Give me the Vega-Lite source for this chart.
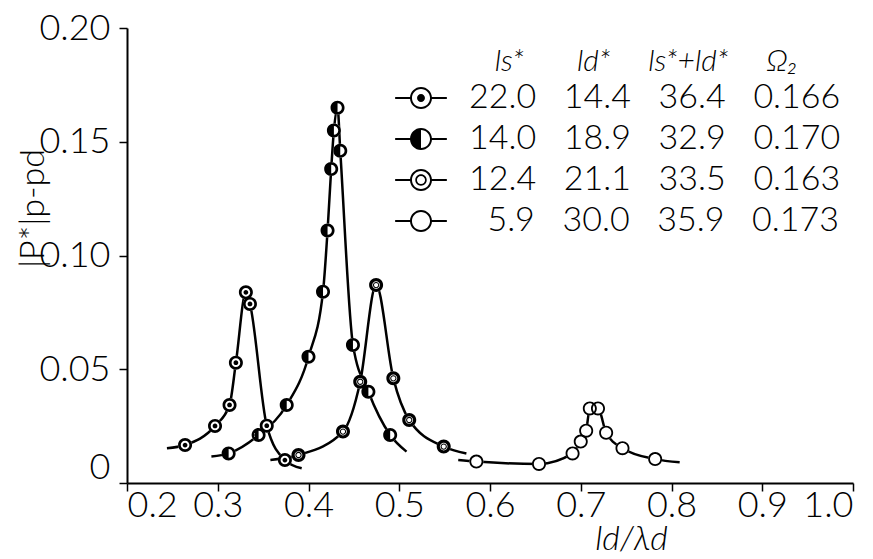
{
  "$schema": "https://vega.github.io/schema/vega-lite/v6.json",
  "width": 726,
  "height": 455,
  "autosize": {"type": "none"},
  "padding": {"left": 127, "top": 28, "right": 20, "bottom": 76},
  "background": "white",
  "config": {
    "view": {"stroke": null},
    "font": "Lato",
    "axis": {
      "domainColor": "black", "domainWidth": 2, "tickColor": "black", "tickWidth": 1.5, "tickSize": 8,
      "grid": false, "labelFont": "Lato", "labelFontWeight": 300, "labelFontSize": 36, "labelColor": "black",
      "titleFont": "Lato", "titleFontWeight": 300, "titleFontStyle": "italic", "titleColor": "black"
    }
  },
  "datasets": {
    "markers": [
      {"ls": "22.0", "x": 0.264, "y": 0.0167}, {"ls": "22.0", "x": 0.297, "y": 0.0251}, {"ls": "22.0", "x": 0.313, "y": 0.0343},
      {"ls": "22.0", "x": 0.320, "y": 0.0529}, {"ls": "22.0", "x": 0.331, "y": 0.0838}, {"ls": "22.0", "x": 0.3355, "y": 0.0787},
      {"ls": "22.0", "x": 0.354, "y": 0.0252}, {"ls": "22.0", "x": 0.374, "y": 0.0101},
      {"ls": "14.0", "x": 0.312, "y": 0.013}, {"ls": "14.0", "x": 0.345, "y": 0.0211}, {"ls": "14.0", "x": 0.376, "y": 0.0343},
      {"ls": "14.0", "x": 0.400, "y": 0.0555}, {"ls": "14.0", "x": 0.416, "y": 0.0841}, {"ls": "14.0", "x": 0.421, "y": 0.111},
      {"ls": "14.0", "x": 0.425, "y": 0.138}, {"ls": "14.0", "x": 0.428, "y": 0.155}, {"ls": "14.0", "x": 0.432, "y": 0.165},
      {"ls": "14.0", "x": 0.435, "y": 0.146}, {"ls": "14.0", "x": 0.449, "y": 0.0607}, {"ls": "14.0", "x": 0.466, "y": 0.0401},
      {"ls": "14.0", "x": 0.490, "y": 0.0211},
      {"ls": "12.4", "x": 0.389, "y": 0.0123}, {"ls": "12.4", "x": 0.438, "y": 0.0226}, {"ls": "12.4", "x": 0.457, "y": 0.0445},
      {"ls": "12.4", "x": 0.4745, "y": 0.087}, {"ls": "12.4", "x": 0.4935, "y": 0.046}, {"ls": "12.4", "x": 0.511, "y": 0.0277},
      {"ls": "12.4", "x": 0.549, "y": 0.016},
      {"ls": "5.9", "x": 0.585, "y": 0.0094}, {"ls": "5.9", "x": 0.654, "y": 0.0084}, {"ls": "5.9", "x": 0.691, "y": 0.013},
      {"ls": "5.9", "x": 0.700, "y": 0.0182}, {"ls": "5.9", "x": 0.706, "y": 0.023}, {"ls": "5.9", "x": 0.710, "y": 0.0328},
      {"ls": "5.9", "x": 0.719, "y": 0.0328}, {"ls": "5.9", "x": 0.728, "y": 0.0221}, {"ls": "5.9", "x": 0.746, "y": 0.0153},
      {"ls": "5.9", "x": 0.782, "y": 0.0105}
    ],
    "curves": [
      {"ls": "22.0", "x": 0.244, "y": 0.0153}, {"ls": "22.0", "x": 0.264, "y": 0.0167}, {"ls": "22.0", "x": 0.297, "y": 0.0251},
      {"ls": "22.0", "x": 0.313, "y": 0.0343}, {"ls": "22.0", "x": 0.320, "y": 0.0529}, {"ls": "22.0", "x": 0.331, "y": 0.0838},
      {"ls": "22.0", "x": 0.3355, "y": 0.0787}, {"ls": "22.0", "x": 0.354, "y": 0.0252}, {"ls": "22.0", "x": 0.374, "y": 0.0101},
      {"ls": "22.0", "x": 0.3925, "y": 0.0065},
      {"ls": "14.0", "x": 0.293, "y": 0.0116}, {"ls": "14.0", "x": 0.312, "y": 0.013}, {"ls": "14.0", "x": 0.345, "y": 0.0211},
      {"ls": "14.0", "x": 0.376, "y": 0.0343}, {"ls": "14.0", "x": 0.400, "y": 0.0555}, {"ls": "14.0", "x": 0.416, "y": 0.0841},
      {"ls": "14.0", "x": 0.421, "y": 0.111}, {"ls": "14.0", "x": 0.425, "y": 0.138}, {"ls": "14.0", "x": 0.428, "y": 0.155},
      {"ls": "14.0", "x": 0.432, "y": 0.165}, {"ls": "14.0", "x": 0.435, "y": 0.146}, {"ls": "14.0", "x": 0.449, "y": 0.0607},
      {"ls": "14.0", "x": 0.466, "y": 0.0401}, {"ls": "14.0", "x": 0.490, "y": 0.0211}, {"ls": "14.0", "x": 0.508, "y": 0.0138},
      {"ls": "12.4", "x": 0.358, "y": 0.0101}, {"ls": "12.4", "x": 0.389, "y": 0.0123}, {"ls": "12.4", "x": 0.438, "y": 0.0226},
      {"ls": "12.4", "x": 0.457, "y": 0.0445}, {"ls": "12.4", "x": 0.4745, "y": 0.087}, {"ls": "12.4", "x": 0.4935, "y": 0.046},
      {"ls": "12.4", "x": 0.511, "y": 0.0277}, {"ls": "12.4", "x": 0.549, "y": 0.016}, {"ls": "12.4", "x": 0.574, "y": 0.013},
      {"ls": "5.9", "x": 0.565, "y": 0.0101}, {"ls": "5.9", "x": 0.585, "y": 0.0094}, {"ls": "5.9", "x": 0.654, "y": 0.0084},
      {"ls": "5.9", "x": 0.691, "y": 0.013}, {"ls": "5.9", "x": 0.700, "y": 0.0182}, {"ls": "5.9", "x": 0.706, "y": 0.023},
      {"ls": "5.9", "x": 0.710, "y": 0.0328}, {"ls": "5.9", "x": 0.719, "y": 0.0328}, {"ls": "5.9", "x": 0.728, "y": 0.0221},
      {"ls": "5.9", "x": 0.746, "y": 0.0153}, {"ls": "5.9", "x": 0.782, "y": 0.0105}, {"ls": "5.9", "x": 0.809, "y": 0.0091}
    ]
  },
  "encoding": {
    "x": {
      "field": "x", "type": "quantitative",
      "scale": {"domain": [0.2, 1.0], "nice": false, "zero": false},
      "axis": {
        "values": [0.2, 0.3, 0.4, 0.5, 0.6, 0.7, 0.8, 0.9, 1.0], "format": ".1f", "labelPadding": -3,
        "encode": {"ticks": {"update": {"y2": {"value": -8}}}},
        "title": "ld/λd", "titleFontSize": 34, "titleX": 504, "titleY": 66, "titleAnchor": "start", "titleAlign": "center", "titleBaseline": "alphabetic"
      }
    },
    "y": {
      "field": "y", "type": "quantitative",
      "scale": {"domain": [0, 0.2], "nice": false},
      "axis": {
        "values": [0, 0.05, 0.1, 0.15, 0.2],
        "labelExpr": "datum.value == 0 ? '0' : format(datum.value, '.2f')",
        "labelPadding": 9,
        "encode": {"ticks": {"update": {"x2": {"value": 8}}}},
        "labelOffset": {"condition": {"test": "datum.value == 0", "value": -16}, "value": 0},
        "title": "|P*|p-pd", "titleFontSize": 34, "titleFontStyle": "normal", "titleAngle": -90, "titleX": -94, "titleY": 180,
        "titleAlign": "center", "titleBaseline": "middle", "titleAnchor": "start"
      }
    }
  },
  "layer": [
    {
      "data": {"name": "curves"},
      "mark": {"type": "line", "color": "black", "strokeWidth": 2.5, "interpolate": "monotone"},
      "encoding": {"detail": {"field": "ls", "type": "nominal"}}
    },
    {
      "data": {"name": "markers"},
      "mark": {"type": "point", "shape": "circle", "filled": true, "color": "white", "opacity": 1, "size": 196}
    },
    {
      "data": {"name": "markers"},
      "mark": {"type": "point", "filled": true, "color": "black", "opacity": 1, "size": 196, "strokeWidth": 0},
      "encoding": {
        "shape": {
          "field": "ls", "type": "nominal", "legend": null,
          "scale": {
            "domain": ["22.0", "14.0", "12.4", "5.9"],
            "range": [
              "M1,0A1,1,0,1,1,-1,0A1,1,0,1,1,1,0ZM0.62,0A0.62,0.62,0,1,0,-0.62,0A0.62,0.62,0,1,0,0.62,0ZM0.34,0A0.34,0.34,0,1,1,-0.34,0A0.34,0.34,0,1,1,0.34,0Z",
              "M1,0A1,1,0,1,1,-1,0A1,1,0,1,1,1,0ZM0.62,0A0.62,0.62,0,1,0,-0.62,0A0.62,0.62,0,1,0,0.62,0ZM0,-0.62A0.62,0.62,0,0,0,0,0.62Z",
              "M1,0A1,1,0,1,1,-1,0A1,1,0,1,1,1,0ZM0.55,0A0.55,0.55,0,1,0,-0.55,0A0.55,0.55,0,1,0,0.55,0ZM0.45,0A0.45,0.45,0,1,1,-0.45,0A0.45,0.45,0,1,1,0.45,0ZM0.3,0A0.3,0.3,0,1,0,-0.3,0A0.3,0.3,0,1,0,0.3,0Z",
              "M1,0A1,1,0,1,1,-1,0A1,1,0,1,1,1,0ZM0.74,0A0.74,0.74,0,1,0,-0.74,0A0.74,0.74,0,1,0,0.74,0Z"
            ]
          }
        }
      }
    },
    {
      "data": {"name": "markers"},
      "transform": [{"filter": "datum.x < 0"}],
      "mark": {"type": "point", "filled": true, "color": "black", "opacity": 1},
      "encoding": {
        "shape": {
          "field": "ls", "type": "nominal",
          "scale": {
            "domain": ["22.0", "14.0", "12.4", "5.9"],
            "range": [
              "M-2.35,-0.1L-0.9,-0.1L-0.9,0.1L-2.35,0.1ZM0.9,-0.1L2.35,-0.1L2.35,0.1L0.9,0.1ZM1,0A1,1,0,1,1,-1,0A1,1,0,1,1,1,0ZM0.82,0A0.82,0.82,0,1,0,-0.82,0A0.82,0.82,0,1,0,0.82,0ZM0.36,0A0.36,0.36,0,1,1,-0.36,0A0.36,0.36,0,1,1,0.36,0Z",
              "M-2.35,-0.1L-0.9,-0.1L-0.9,0.1L-2.35,0.1ZM0.9,-0.1L2.35,-0.1L2.35,0.1L0.9,0.1ZM1,0A1,1,0,1,1,-1,0A1,1,0,1,1,1,0ZM0.82,0A0.82,0.82,0,1,0,-0.82,0A0.82,0.82,0,1,0,0.82,0ZM0,-0.82A0.82,0.82,0,0,0,0,0.82Z",
              "M-2.35,-0.1L-0.9,-0.1L-0.9,0.1L-2.35,0.1ZM0.9,-0.1L2.35,-0.1L2.35,0.1L0.9,0.1ZM1,0A1,1,0,1,1,-1,0A1,1,0,1,1,1,0ZM0.82,0A0.82,0.82,0,1,0,-0.82,0A0.82,0.82,0,1,0,0.82,0ZM0.52,0A0.52,0.52,0,1,1,-0.52,0A0.52,0.52,0,1,1,0.52,0ZM0.37,0A0.37,0.37,0,1,0,-0.37,0A0.37,0.37,0,1,0,0.37,0Z",
              "M-2.35,-0.1L-0.9,-0.1L-0.9,0.1L-2.35,0.1ZM0.9,-0.1L2.35,-0.1L2.35,0.1L0.9,0.1ZM1,0A1,1,0,1,1,-1,0A1,1,0,1,1,1,0ZM0.82,0A0.82,0.82,0,1,0,-0.82,0A0.82,0.82,0,1,0,0.82,0Z"
            ]
          },
          "legend": {
            "orient": "none", "legendX": 277, "legendY": 19, "padding": 0,
            "title": "\u200d\u00a0\u00a0\u00a0\u00a0\u00a0\u00a0\u00a0\u00a0\u00a0\u00a0\u00a0\u00a0ls*\u00a0\u00a0\u00a0\u00a0\u00a0\u00a0\u00a0ld*\u00a0\u00a0\u00a0\u00a0\u00a0ls*+ld*\u00a0\u00a0\u00a0\u00a0\u00a0Ω₂",
            "titleFont": "Lato", "titleFontSize": 30, "titleFontWeight": 300, "titleFontStyle": "italic",
            "titleColor": "black", "titleAnchor": "start", "titleAlign": "left", "titlePadding": 4, "titleLimit": 0,
            "symbolSize": 484, "labelOffset": 31, "rowPadding": 7, "labelLimit": 0,
            "symbolStrokeWidth": 0,
            "labelFont": "Lato", "labelFontSize": 34, "labelFontWeight": 300, "labelColor": "black",
            "labelExpr": "datum.label == '22.0' ? '22.0\u00a0\u00a0\u00a014.4\u00a0\u00a0\u00a036.4\u00a0\u00a0\u00a00.166' : datum.label == '14.0' ? '14.0\u00a0\u00a0\u00a018.9\u00a0\u00a0\u00a032.9\u00a0\u00a0\u00a00.170' : datum.label == '12.4' ? '12.4\u00a0\u00a0\u00a021.1\u00a0\u00a0\u00a033.5\u00a0\u00a0\u00a00.163' : '\u200d\u00a0\u00a05.9\u00a0\u00a0\u00a030.0\u00a0\u00a0\u00a035.9\u00a0\u00a0\u00a00.173'"
          }
        }
      }
    }
  ],
  "resolve": {"scale": {"shape": "independent"}, "legend": {"shape": "independent"}}
}
